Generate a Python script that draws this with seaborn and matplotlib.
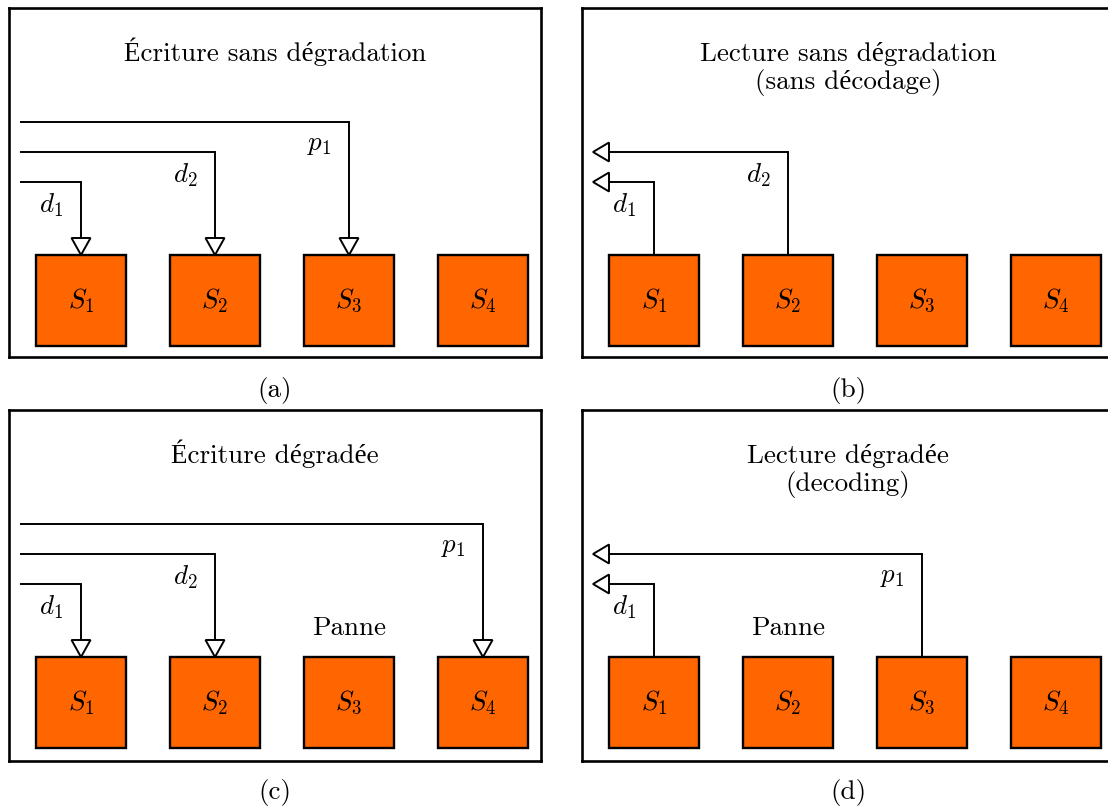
import numpy as np
import matplotlib
matplotlib.use("Agg")
import matplotlib.pyplot as plt
import seaborn as sns

# ---- content -------------------------------------------------------------
titles = ["Écriture sans dégradation",
          "Lecture sans dégradation\n(sans décodage)",
          "Écriture dégradée",
          "Lecture dégradée\n(decoding)"]
captions = ["(a)", "(b)", "(c)", "(d)"]
servers = ["$S_1$", "$S_2$", "$S_3$", "$S_4$"]
arrow_labels = [["$d_1$", "$d_2$", "$p_1$"],
                ["$d_1$", "$d_2$"],
                ["$d_1$", "$d_2$", "$p_1$"],
                ["$d_1$", "$p_1$"]]
arrow_servers = [[0, 1, 2], [0, 1], [0, 1, 3], [0, 2]]
arrow_modes = ["write", "read", "write", "read"]
failed_server = [None, None, 2, 1]
fail_label = "Panne"

# ---- style ---------------------------------------------------------------
sns.set_theme(style="white")
plt.rcParams["font.family"] = ["cmr10", "Liberation Serif", "DejaVu Serif"]
plt.rcParams["mathtext.fontset"] = "cm"
plt.rcParams["axes.unicode_minus"] = False
plt.rcParams["axes.formatter.use_mathtext"] = True
plt.rcParams["text.color"] = "black"

ORANGE = "#FF6600"
FS = 19.5

W, H = 1108, 807
fig = plt.figure(figsize=(W / 100, H / 100), dpi=100)
fig.patch.set_facecolor("white")

# panel frames in pixels: left, top, width, height
panel_rects = [(9, 8, 532, 349), (582, 8, 532, 349),
               (9, 410, 532, 351), (582, 410, 532, 351)]

PX = 134.0            # pixels per server slot
X0 = 72.0             # panel left edge -> S1 centre
levels = [174, 144, 114]
box_w = 90 / PX
box_top, box_bot = 247, 338
line_start = (11 - X0) / PX
head_hw_x = 9.5 / PX
head_len_y = 17
head_len_x = 16 / PX
head_hw_y = 9.5

for k, (l, t, w, h) in enumerate(panel_rects):
    ax = fig.add_axes([l / W, 1 - (t + h) / H, w / W, h / H])
    ax.set_xlim(-X0 / PX, (w - X0) / PX)
    ax.set_ylim(h, 0)
    ax.set_xticks([])
    ax.set_yticks([])
    ax.set_facecolor("white")
    for sp in ax.spines.values():
        sp.set_visible(True)
        sp.set_color("black")
        sp.set_linewidth(1.9)

    xs = np.arange(len(servers))
    ax.bar(xs, box_bot - box_top, bottom=box_top, width=box_w,
           color=ORANGE, edgecolor="black", linewidth=1.7, zorder=2)
    for x, s in zip(xs, servers):
        ax.text(x, (box_top + box_bot) / 2, s, ha="center", va="center",
                fontsize=FS, color="black", zorder=3)

    cx = (w / 2 - X0) / PX
    nlines = titles[k].count("\n") + 1
    ty = 44 if nlines == 1 else 61
    ax.text(cx, ty, titles[k], ha="center", va="center", fontsize=FS,
            color="black", linespacing=1.15)
    ax.text(cx, 382, captions[k], ha="center", va="center", fontsize=FS,
            color="black", clip_on=False)

    if failed_server[k] is not None:
        ax.text(failed_server[k], 218, fail_label, ha="center", va="center",
                fontsize=FS, color="black")

    for j, (srv, lab) in enumerate(zip(arrow_servers[k], arrow_labels[k])):
        y = levels[j]
        ax.plot([line_start, srv, srv], [y, y, box_top], color="black",
                lw=1.4, solid_joinstyle="miter", solid_capstyle="butt",
                zorder=1)
        if arrow_modes[k] == "write":
            tri_x = [srv - head_hw_x, srv + head_hw_x, srv]
            tri_y = [box_top - head_len_y, box_top - head_len_y, box_top]
        else:
            tri_x = [line_start, line_start + head_len_x, line_start + head_len_x]
            tri_y = [y, y - head_hw_y, y + head_hw_y]
        ax.fill(tri_x, tri_y, facecolor="white", edgecolor="black",
                linewidth=1.4, joinstyle="miter", zorder=4)
        ax.text(srv - 30 / PX, y + 23, lab, ha="center", va="center",
                fontsize=FS, color="black")

fig.savefig("out.png", dpi=100, facecolor="white")
